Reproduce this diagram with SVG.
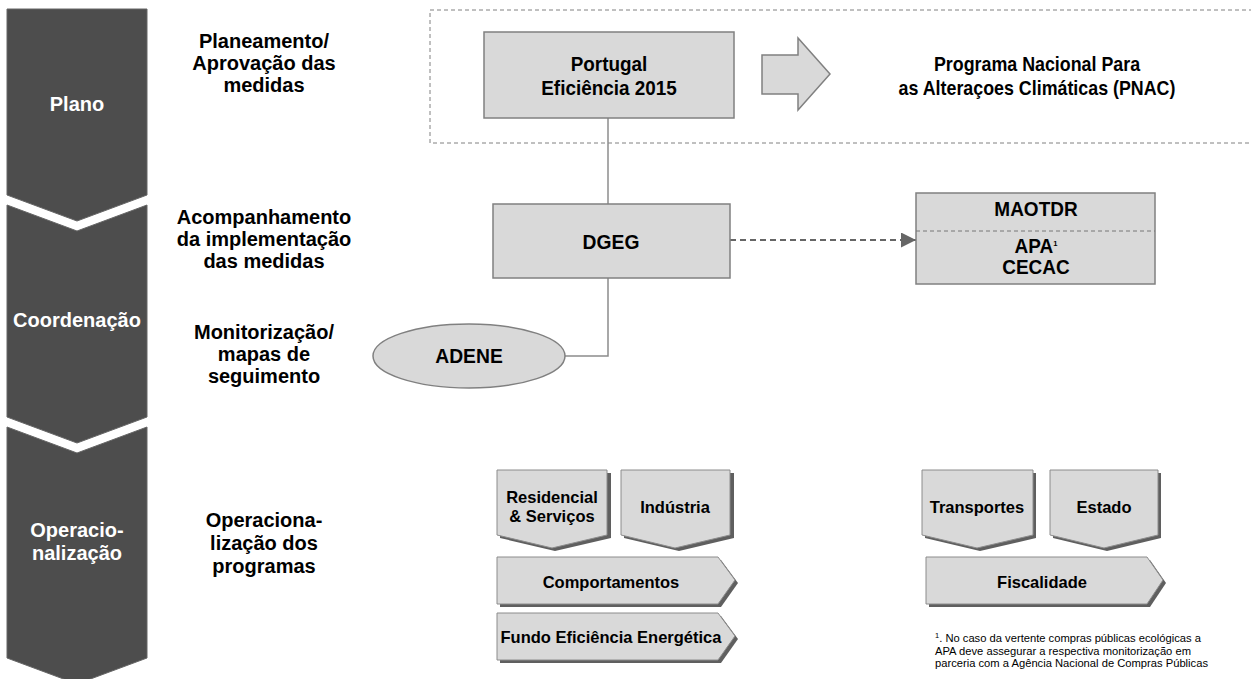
<svg xmlns="http://www.w3.org/2000/svg" width="1251" height="679" viewBox="0 0 1251 679">
<defs>
<style>
.chev{fill:#4d4d4d;stroke:#666;stroke-width:1}
.ct{font-family:"Liberation Sans",Arial,sans-serif;font-weight:bold;font-size:20px;fill:#fff;text-anchor:middle}
.lab{font-family:"Liberation Sans",Arial,sans-serif;font-weight:bold;font-size:20px;fill:#000;text-anchor:middle}
.nb{font-family:"Liberation Sans",Arial,sans-serif;font-weight:bold;font-size:21px;fill:#000;text-anchor:middle}
.nm{font-family:"Liberation Sans",Arial,sans-serif;font-weight:bold;font-size:20px;fill:#000;text-anchor:middle}
.nl{font-family:"Liberation Sans",Arial,sans-serif;font-weight:bold;font-size:21px;fill:#000;text-anchor:middle}
.box{fill:#d9d9d9;stroke:#808080;stroke-width:1.5}
.pb{fill:#d9d9d9;stroke:#8c8c8c;stroke-width:1}
.sh{fill:#5f5f5f}
.bt{font-family:"Liberation Sans",Arial,sans-serif;font-weight:bold;font-size:16.5px;fill:#000;text-anchor:middle}
.fn{font-family:"Liberation Sans",Arial,sans-serif;font-size:11.2px;fill:#000}
.conn{fill:none;stroke:#8c8c8c;stroke-width:1.5}
</style>
<marker id="ah" viewBox="0 0 15 15" refX="15" refY="7.5" markerWidth="15" markerHeight="15" markerUnits="userSpaceOnUse" orient="auto">
<path d="M0,0 L15,7.5 L0,15 Z" fill="#666"/>
</marker>
</defs>
<rect width="1251" height="679" fill="#fff"/>

<g id="phase-plano">
<polygon class="chev" points="7,9 147,9 147,195 77,221 7,195"/>
<text class="ct" x="77" y="111">Plano</text>
</g>
<g id="phase-coordenacao">
<polygon class="chev" points="7,205 77,231 147,205 147,417 77,443 7,417"/>
<text class="ct" x="77" y="327">Coordenação</text>
</g>
<g id="phase-operacionalizacao">
<polygon class="chev" points="7,427 77,453 147,427 147,658 77,684 7,658"/>
<text class="ct" x="77" y="537">Operacio-</text>
<text class="ct" x="77" y="560">nalização</text>
</g>

<g id="label-planeamento">
<text class="lab" x="264" y="48">Planeamento/</text>
<text class="lab" x="264" y="70">Aprovação das</text>
<text class="lab" x="264" y="92">medidas</text>
</g>
<g id="label-acompanhamento">
<text class="lab" x="264" y="224">Acompanhamento</text>
<text class="lab" x="264" y="246">da implementação</text>
<text class="lab" x="264" y="268">das medidas</text>
</g>
<g id="label-monitorizacao">
<text class="lab" x="264" y="339">Monitorização/</text>
<text class="lab" x="264" y="361">mapas de</text>
<text class="lab" x="264" y="383">seguimento</text>
</g>
<g id="label-operacionalizacao">
<text class="lab" x="264" y="527">Operaciona-</text>
<text class="lab" x="264" y="550">lização dos</text>
<text class="lab" x="264" y="573">programas</text>
</g>

<g id="plan-group">
<rect x="430" y="10" width="840" height="133" fill="none" stroke="#808080" stroke-width="1" stroke-dasharray="4,3"/>
</g>

<g id="connectors">
<polyline class="conn" points="608,118 608,204"/>
<polyline class="conn" points="608,278 608,356 565,356"/>
<line x1="730" y1="240" x2="916" y2="240" stroke="#666" stroke-width="2" stroke-dasharray="6,4" marker-end="url(#ah)"/>
</g>

<g id="node-portugal">
<rect class="box" x="484" y="32" width="250" height="86"/>
<text class="nl" transform="translate(609,71) scale(0.9,1)">Portugal</text>
<text class="nl" transform="translate(609,95) scale(0.9,1)">Eficiência 2015</text>
</g>

<g id="arrow-pnac">
<polygon class="box" points="762,55 798,55 798,38 830,74 798,110 798,94 762,94"/>
</g>
<g id="node-pnac">
<text class="nl" transform="translate(1037,71) scale(0.85,1)">Programa Nacional Para</text>
<text class="nl" transform="translate(1037,95) scale(0.85,1)">as Alteraçoes Climáticas (PNAC)</text>
</g>

<g id="node-dgeg">
<rect class="box" x="493" y="204" width="237" height="74"/>
<text class="nb" transform="translate(611,249) scale(0.92,1)">DGEG</text>
</g>

<g id="node-adene">
<ellipse class="box" cx="469" cy="356" rx="96" ry="32"/>
<text class="nb" transform="translate(469,363) scale(0.92,1)">ADENE</text>
</g>

<g id="node-maotdr">
<rect class="box" x="916" y="193" width="239" height="91"/>
<line x1="916" y1="231" x2="1155" y2="231" stroke="#777" stroke-width="1" stroke-dasharray="4,3"/>
<text class="nm" transform="translate(1036,216) scale(0.95,1)">MAOTDR</text>
<text class="nm" transform="translate(1036,253) scale(0.95,1)">APA<tspan font-size="8" dy="-7">1</tspan></text>
<text class="nm" transform="translate(1036,274) scale(0.95,1)">CECAC</text>
</g>

<g id="node-residencial">
<polygon class="sh" points="500,473 611,473 611,538 555,551 500,538"/>
<polygon class="pb" points="497,470 607,470 607,535 552,548 497,535"/>
<text class="bt" x="552" y="503">Residencial</text>
<text class="bt" x="552" y="522">&amp; Serviços</text>
</g>
<g id="node-industria">
<polygon class="sh" points="624,473 734,473 734,538 679,551 624,538"/>
<polygon class="pb" points="621,470 730,470 730,535 675,548 621,535"/>
<text class="bt" x="675" y="513">Indústria</text>
</g>
<g id="node-comportamentos">
<polygon class="sh" points="500,560 721,560 738,583 721,607 500,607"/>
<polygon class="pb" points="497,557 718,557 735,580 718,604 497,604"/>
<text class="bt" x="611" y="588">Comportamentos</text>
</g>
<g id="node-fundo">
<polygon class="sh" points="500,616 721,616 738,639 721,663 500,663"/>
<polygon class="pb" points="497,613 718,613 735,636 718,660 497,660"/>
<text class="bt" x="611" y="643">Fundo Eficiência Energética</text>
</g>
<g id="node-transportes">
<polygon class="sh" points="925,473 1036,473 1036,538 980,551 925,538"/>
<polygon class="pb" points="922,470 1033,470 1033,535 977,548 922,535"/>
<text class="bt" x="977" y="513">Transportes</text>
</g>
<g id="node-estado">
<polygon class="sh" points="1053,473 1161,473 1161,538 1107,551 1053,538"/>
<polygon class="pb" points="1050,470 1158,470 1158,535 1104,548 1050,535"/>
<text class="bt" x="1104" y="513">Estado</text>
</g>
<g id="node-fiscalidade">
<polygon class="sh" points="929,560 1150,560 1166,583 1150,607 929,607"/>
<polygon class="pb" points="926,557 1147,557 1163,580 1147,604 926,604"/>
<text class="bt" x="1042" y="588">Fiscalidade</text>
</g>

<g id="footnote">
<text class="fn" x="935" y="642"><tspan font-size="7.5" dy="-4">1</tspan><tspan dy="4">. No caso da vertente compras públicas ecológicas a</tspan></text>
<text class="fn" x="935" y="654.5">APA deve assegurar a respectiva monitorização em</text>
<text class="fn" x="935" y="667">parceria com a Agência Nacional de Compras Públicas</text>
</g>
</svg>
